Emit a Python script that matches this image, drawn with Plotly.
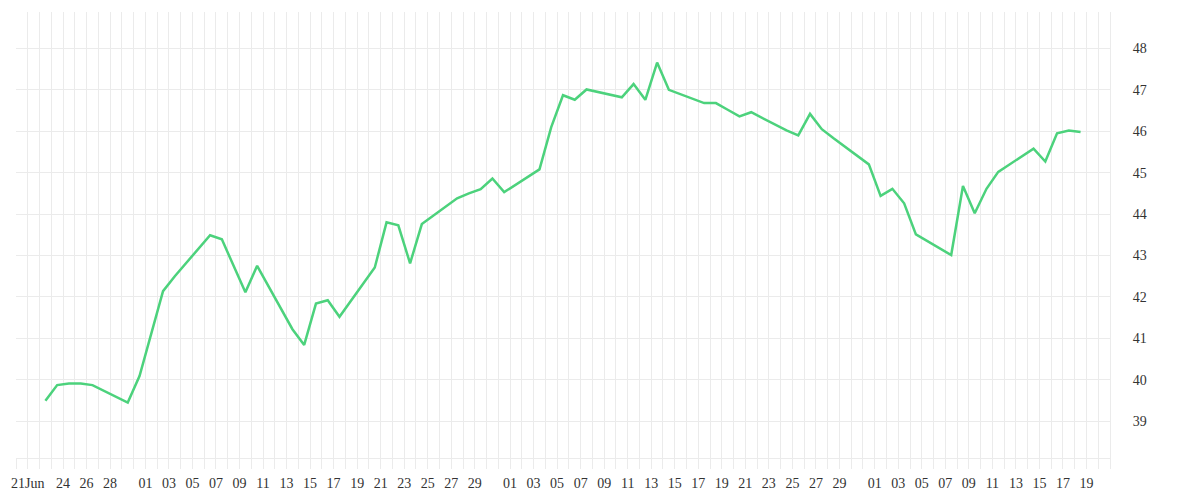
import plotly.graph_objects as go

# ---- data ----
dates = [
    "2015-06-22", "2015-06-23", "2015-06-24", "2015-06-25", "2015-06-26",
    "2015-06-29", "2015-06-30", "2015-07-01", "2015-07-02", "2015-07-03",
    "2015-07-06", "2015-07-07", "2015-07-08", "2015-07-09", "2015-07-10",
    "2015-07-13", "2015-07-14", "2015-07-15", "2015-07-16", "2015-07-17",
    "2015-07-20", "2015-07-21", "2015-07-22", "2015-07-23", "2015-07-24",
    "2015-07-27", "2015-07-28", "2015-07-29", "2015-07-30", "2015-07-31",
    "2015-08-03", "2015-08-04", "2015-08-05", "2015-08-06", "2015-08-07",
    "2015-08-10", "2015-08-11", "2015-08-12", "2015-08-13", "2015-08-14",
    "2015-08-17", "2015-08-18", "2015-08-19", "2015-08-20", "2015-08-21",
    "2015-08-24", "2015-08-25", "2015-08-26", "2015-08-27", "2015-08-28",
    "2015-08-31", "2015-09-01", "2015-09-02", "2015-09-03", "2015-09-04",
    "2015-09-07", "2015-09-08", "2015-09-09", "2015-09-10", "2015-09-11",
    "2015-09-14", "2015-09-15", "2015-09-16", "2015-09-17", "2015-09-18",
]
values = [
    39.49, 39.87, 39.91, 39.91, 39.87,
    39.45, 40.09, 41.10, 42.14, 42.50,
    43.49, 43.39, 42.75, 42.11, 42.75,
    41.22, 40.84, 41.84, 41.92, 41.52,
    42.71, 43.80, 43.73, 42.81, 43.76,
    44.38, 44.50, 44.60, 44.86, 44.53,
    45.08, 46.10, 46.87, 46.76, 47.01,
    46.82, 47.14, 46.76, 47.66, 47.00,
    46.68, 46.68, 46.52, 46.36, 46.46,
    46.02, 45.90, 46.42, 46.05, 45.83,
    45.20, 44.44, 44.61, 44.26, 43.51,
    43.01, 44.68, 44.02, 44.61, 45.02,
    45.58, 45.27, 45.95, 46.02, 45.98,
]

tick_dates = (
    ["2015-06-21", "2015-06-24", "2015-06-26", "2015-06-28"]
    + ["2015-07-%02d" % d for d in range(1, 30, 2)]
    + ["2015-08-%02d" % d for d in range(1, 30, 2)]
    + ["2015-09-%02d" % d for d in range(1, 20, 2)]
)
tick_labels = (
    ["21Jun", "24", "26", "28"]
    + ["%02d" % d for d in range(1, 30, 2)]
    + ["%02d" % d for d in range(1, 30, 2)]
    + ["%02d" % d for d in range(1, 20, 2)]
)

# points sit in the middle of each day cell
x_vals = [d + " 12:00" for d in dates]

GRID = "#ebebeb"
FONT = dict(family="Liberation Serif, DejaVu Serif, serif", size=14, color="#333333")

fig = go.Figure()
fig.add_trace(go.Scatter(
    x=x_vals, y=values, mode="lines",
    line=dict(color="#4cd27c", width=2.5),
    hoverinfo="skip",
))

fig.update_layout(
    width=1192, height=492,
    margin=dict(l=8, r=90, t=4, b=42),
    paper_bgcolor="white", plot_bgcolor="white",
    showlegend=False,
    font=FONT,
)
fig.update_xaxes(
    type="date", automargin=False,
    range=["2015-06-20", "2015-09-21"],
    tickmode="array", tickvals=tick_dates, ticktext=tick_labels,
    ticks="outside", ticklen=10, tickcolor=GRID, tickwidth=1,
    showgrid=True, gridcolor=GRID, gridwidth=1,
    showline=True, linecolor=GRID, linewidth=1,
    minor=dict(dtick=86400000, tick0="2015-06-20", showgrid=True,
               gridcolor=GRID, ticks="outside", ticklen=10, tickcolor=GRID),
    ticklabelstandoff=2,
    zeroline=False,
    tickfont=FONT,
)
fig.update_yaxes(
    side="right", automargin=False,
    range=[38.11, 48.88],
    dtick=1, tick0=0,
    showgrid=True, gridcolor=GRID, gridwidth=1,
    zeroline=False,
    showline=True, linecolor=GRID, linewidth=1,
    ticks="", ticklabelstandoff=19,
    tickfont=FONT,
)

fig.write_html("out.html")
